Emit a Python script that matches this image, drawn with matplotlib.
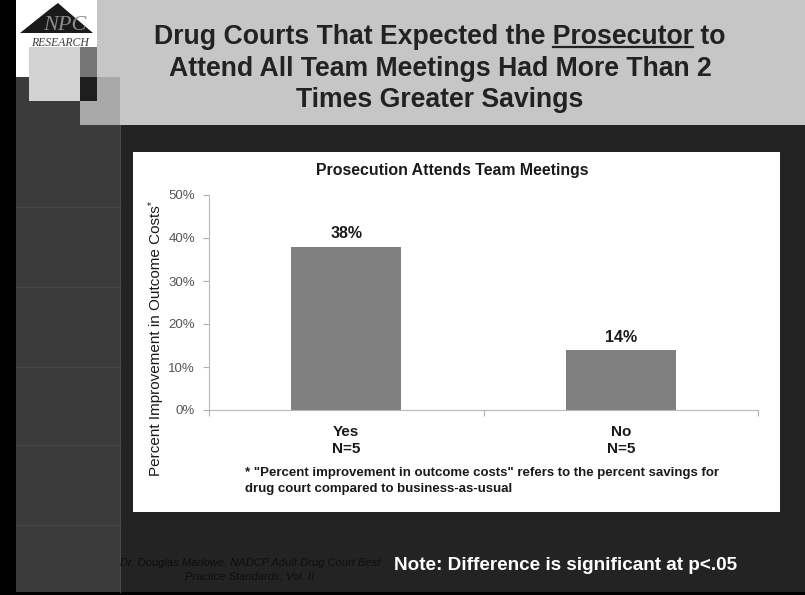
import matplotlib.pyplot as plt
from matplotlib.patches import Rectangle, Polygon

plt.rcParams['font.family'] = 'Liberation Sans'

categories = ['Yes\nN=5', 'No\nN=5']
savings = [0.38, 0.14]
yticks = [0, 0.1, 0.2, 0.3, 0.4, 0.5]

title_lines = ['Drug Courts That Expected the Prosecutor to',
               'Attend All Team Meetings Had More Than 2',
               'Times Greater Savings']
chart_title = 'Prosecution Attends Team Meetings'
ylabel = 'Percent Improvement in Outcome Costs'
footnote = ('* "Percent improvement in outcome costs" refers to the percent savings for\n'
            'drug court compared to business-as-usual')
source = 'Dr. Douglas Marlowe, NADCP Adult Drug Court Best\nPractice Standards, Vol. II'
note = 'Note: Difference is significant at p<.05'

W, H = 805, 595
fig = plt.figure(figsize=(W / 100, H / 100), dpi=100)

# slide background, drawn in pixel units
bg = fig.add_axes([0, 0, 1, 1])
bg.set_xlim(0, W)
bg.set_ylim(H, 0)
bg.axis('off')

def box(x0, y0, x1, y1, color, z=1):
    bg.add_patch(Rectangle((x0, y0), x1 - x0, y1 - y0, color=color, lw=0, zorder=z))

box(0, 0, W, H, '#000000', 0)
box(16, 0, W, 125, '#c6c6c6')
box(120, 125, W, 592, '#232323')
box(16, 77, 120, 592, '#3b3b3b')
box(16, 0, 97, 77, '#ffffff', 2)
box(80, 77, 120, 125, '#a9a9a9', 2)
box(29, 47, 80, 101, '#d2d2d2', 3)
box(80, 47, 97, 77, '#767676', 3)
box(80, 77, 97, 101, '#1e1e1e', 3)
for yy in [207, 287, 367, 445, 525]:
    bg.plot([16, 120], [yy, yy], color='#454545', lw=0.8, zorder=2)
bg.plot([120, 120], [125, 592], color='#4a4a4a', lw=0.8, zorder=2)

# logo
bg.add_patch(Polygon([[20, 33], [50, 9], [58, 3], [66, 10], [93, 33]],
                     closed=True, color='#1a1a1a', lw=0, zorder=4))
bg.text(65, 30, 'NPC', ha='center', va='baseline', fontsize=16, fontstyle='italic',
        family='Liberation Serif', color='#8c8c8c', zorder=5)
bg.text(60, 46, 'RESEARCH', ha='center', va='baseline', fontsize=8.5, fontstyle='italic',
        family='Liberation Serif', color='#3c3c3c', zorder=5)

# slide title
tkw = dict(ha='center', va='baseline', fontsize=19.2, fontweight='bold', color='#222222', zorder=5)
line_y = [44, 76, 107]
t1 = bg.text(440, line_y[0], title_lines[0], **tkw)
for txt, yy in zip(title_lines[1:], line_y[1:]):
    bg.text(440, yy, txt, **tkw)

renderer = fig.canvas.get_renderer()
full_w = t1.get_window_extent(renderer).width
probe_a = bg.text(0, -50, 'Drug Courts That Expected the Prosecutor', **tkw)
probe_b = bg.text(0, -50, 'Prosecutor', **tkw)
wa = probe_a.get_window_extent(renderer).width
wb = probe_b.get_window_extent(renderer).width
probe_a.remove()
probe_b.remove()
x_start = 440 - full_w / 2
bg.plot([x_start + wa - wb, x_start + wa], [line_y[0] + 3, line_y[0] + 3],
        color='#222222', lw=1.6, zorder=5)

# white chart panel
box(133, 152, 780, 512, '#ffffff', 2)

# footer texts
bg.text(250, 570, source, ha='center', va='center', fontsize=8, fontstyle='italic',
        color='#0e0e0e', linespacing=1.4, zorder=5)
bg.text(566, 566, note, ha='center', va='center', fontsize=13.6, fontweight='bold',
        color='#ffffff', zorder=5)

# chart
ax = fig.add_axes([209 / W, 1 - 410 / H, 549 / W, 215 / H])
ax.set_facecolor('none')
x = list(range(len(categories)))
ax.bar(x, savings, width=0.4, color='#808080', zorder=2)
for xi, v in zip(x, savings):
    ax.text(xi, v + 0.012, f'{v:.0%}', ha='center', va='bottom', fontsize=11.5,
            fontweight='bold', color='#1a1a1a')
ax.set_xlim(-0.5, len(categories) - 0.5)
ax.set_ylim(0, 0.5)
ax.set_yticks(yticks)
ax.set_yticklabels([f'{t:.0%}' for t in yticks], fontsize=9.5, color='#555555')
ax.set_xticks([i - 0.5 for i in range(len(categories) + 1)])
ax.set_xticklabels([])
for xi, lab in zip(x, categories):
    ax.text(xi, -0.035, lab, ha='center', va='top', fontsize=11, fontweight='bold',
            color='#1a1a1a', linespacing=1.25, transform=ax.transData)
ax.tick_params(axis='both', colors='#b0b0b0', length=4, width=0.8)
ax.tick_params(axis='y', labelcolor='#555555', pad=6)
for s in ['top', 'right']:
    ax.spines[s].set_visible(False)
for s in ['left', 'bottom']:
    ax.spines[s].set_color('#b8b8b8')
    ax.spines[s].set_linewidth(0.8)

fig.text(452 / W, 1 - 171 / H, chart_title, ha='center', va='center', fontsize=11.4,
         fontweight='bold', color='#1a1a1a')
yl = bg.text(156, 341, ylabel, ha='center', va='center', rotation=90,
             fontsize=11, color='#1a1a1a', zorder=5)
top_px = H - yl.get_window_extent(renderer).y1
bg.text(152, top_px - 1, '*', ha='center', va='bottom', rotation=90, fontsize=7,
        color='#1a1a1a', zorder=5)
fig.text(245 / W, 1 - 481 / H, footnote, ha='left', va='center', fontsize=9.5,
         fontweight='bold', color='#1a1a1a', linespacing=1.4)

fig.savefig('out.png', dpi=100)
